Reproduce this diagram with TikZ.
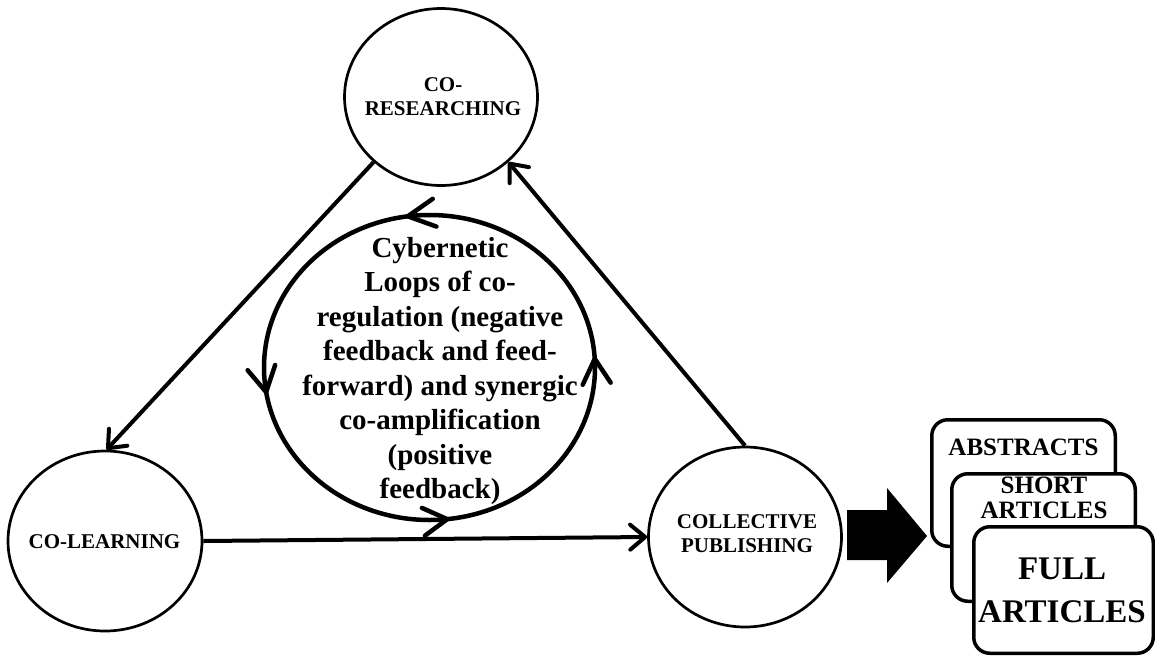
\documentclass[tikz,border=0pt]{standalone}
\usepackage{fontspec}
\setmainfont{Liberation Serif}
\usetikzlibrary{shapes.geometric,arrows.meta,decorations.markings}
\begin{document}
\begin{tikzpicture}[x=1pt,y=1pt,
  circ/.style={ellipse,draw,line width=2.7pt,inner sep=0pt},
  lab/.style={font=\bfseries\fontsize{21}{24}\selectfont,align=center,inner sep=0pt},
  conn/.style={line width=4pt,-{Straight Barb[length=15pt,width=25pt,round]}},
  box/.style={draw,fill=white,rounded corners=16pt,line width=3.5pt,inner sep=0pt},
  boxlab/.style={font=\bfseries\fontsize{25}{25}\selectfont,align=center,inner sep=0pt},
  looptip/.style={decoration={markings,
    mark=at position 0.011 with {\arrow{Straight Barb[length=25pt,width=28pt,round]}},
    mark=at position 0.274 with {\arrow{Straight Barb[length=27pt,width=28pt,round]}},
    mark=at position 0.527 with {\arrow{Straight Barb[length=25pt,width=28pt,round]}},
    mark=at position 0.770 with {\arrow{Straight Barb[length=24pt,width=28pt,round]}}},
    postaction={decorate}}
]
\useasboundingbox (0,0) rectangle (1155,-656);

% circles
\node[circ,minimum width=193pt,minimum height=177pt] (cores) at (441,-97) {};
\node[lab] (corestxt) at (443,-96.5) {CO-\\RESEARCHING};
\node[circ,minimum width=194pt,minimum height=180pt] (colearn) at (105,-541) {};
\node[lab] (colearntxt) at (104.5,-542) {CO-LEARNING};
\node[circ,minimum width=193pt,minimum height=180pt] (colpub) at (745,-537) {};
\node[lab] (colpubtxt) at (747,-534) {COLLECTIVE\\PUBLISHING};

% connectors
\draw[conn] (cores.224) -- (colearn.89);
\draw[conn] (colearn.east) -- (colpub.west);
\draw[conn] (colpub.90) -- (cores.316);

% loop
\draw[line width=4.5pt,looptip] (429.5,-367.5) ellipse [x radius=165.5,y radius=152.5];
\node[font=\bfseries\fontsize{29}{34.5}\selectfont,align=center,inner sep=0pt] (looptxt) at (440,-371)
  {Cybernetic\\Loops of co-\\regulation (negative\\feedback and feed-\\forward) and synergic\\co-amplification\\(positive\\feedback)};

% block arrow
\fill (847,-510) -- (887,-510) -- (887,-488) -- (927,-536) -- (887,-583) -- (887,-560) -- (847,-560) -- cycle;

% boxes
\node[box,minimum width=183.5pt,minimum height=126.5pt] (abs) at (1023.5,-483) {};
\node[boxlab] (abstxt) at (1023.5,-447.5) {ABSTRACTS};
\node[box,minimum width=183.5pt,minimum height=127.5pt] (short) at (1043.5,-537.5) {};
\node[boxlab] (shorttxt) at (1044,-498) {SHORT\\ARTICLES};
\node[box,minimum width=179.5pt,minimum height=126.5pt] (full) at (1063.5,-590) {};
\node[font=\bfseries\fontsize{33}{43}\selectfont,align=center,inner sep=0pt] (fulltxt) at (1062,-590) {FULL\\ARTICLES};
\end{tikzpicture}
\end{document}
